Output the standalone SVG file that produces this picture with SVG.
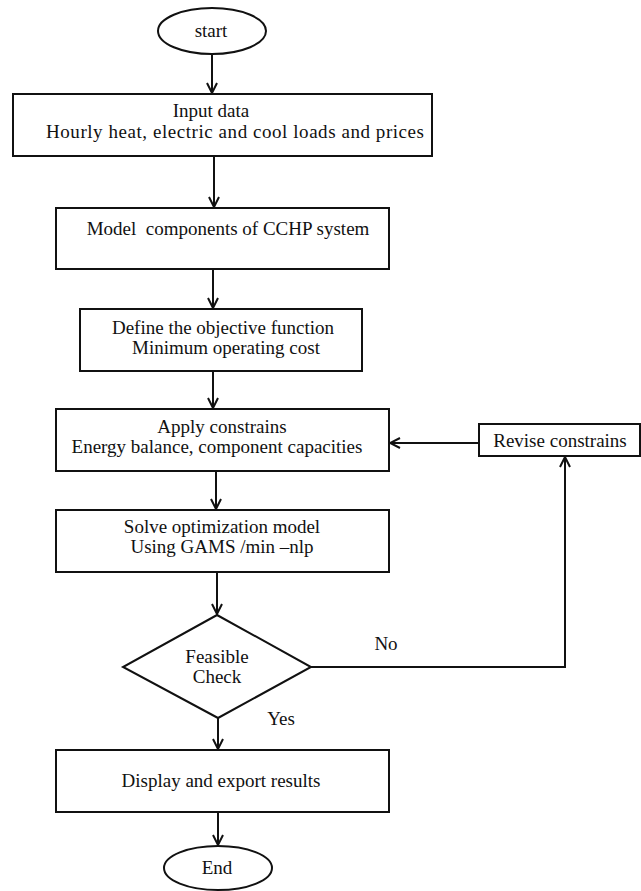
<svg xmlns="http://www.w3.org/2000/svg" width="641" height="891" viewBox="0 0 641 891">
<style>
.s{fill:#fff;stroke:#111;stroke-width:2}
.t{font-family:"Liberation Serif","Times New Roman",serif;font-size:19px;fill:#111;text-anchor:middle;white-space:pre}
.c{fill:none;stroke:#111;stroke-width:2}
</style>
<defs>
<marker id="a" viewBox="0 0 12 12" refX="11" refY="6" markerWidth="12" markerHeight="12" markerUnits="userSpaceOnUse" orient="auto">
<path d="M1,1 L11,6 L1,11" fill="none" stroke="#111" stroke-width="2"/>
</marker>
</defs>
<rect width="641" height="891" fill="#fff"/>
<g id="connectors">
<line class="c" x1="212" y1="54" x2="212" y2="93" marker-end="url(#a)"/>
<line class="c" x1="214" y1="156" x2="214" y2="207" marker-end="url(#a)"/>
<line class="c" x1="213" y1="269" x2="213" y2="308" marker-end="url(#a)"/>
<line class="c" x1="213" y1="371" x2="213" y2="408" marker-end="url(#a)"/>
<line class="c" x1="216" y1="471" x2="216" y2="509" marker-end="url(#a)"/>
<line class="c" x1="217" y1="572" x2="217" y2="614" marker-end="url(#a)"/>
<line class="c" x1="218" y1="718" x2="218" y2="749" marker-end="url(#a)"/>
<line class="c" x1="218" y1="812" x2="218" y2="845" marker-end="url(#a)"/>
<polyline class="c" points="311,667 565,667 565,457" marker-end="url(#a)"/>
<line class="c" x1="479" y1="443" x2="390" y2="443" marker-end="url(#a)"/>
<text class="t" x="386" y="650">No</text>
<text class="t" x="281" y="725">Yes</text>
</g>
<g id="start">
<ellipse class="s" cx="212" cy="31" rx="54" ry="23"/>
<text class="t" x="211" y="37">start</text>
</g>
<g id="input">
<rect class="s" x="13" y="94" width="419" height="62"/>
<text class="t" x="211" y="117">Input data</text>
<text class="t" x="235" y="138" textLength="378">Hourly heat, electric and cool loads and prices</text>
</g>
<g id="model">
<rect class="s" x="56" y="208" width="333" height="61"/>
<text class="t" x="228" y="235">Model  components of CCHP system</text>
</g>
<g id="define">
<rect class="s" x="80" y="309" width="282" height="62"/>
<text class="t" x="223" y="334">Define the objective function</text>
<text class="t" x="226" y="354">Minimum operating cost</text>
</g>
<g id="apply">
<rect class="s" x="56" y="409" width="333" height="62"/>
<text class="t" x="222" y="433">Apply constrains</text>
<text class="t" x="217" y="453">Energy balance, component capacities</text>
</g>
<g id="revise">
<rect class="s" x="479" y="424" width="161" height="32"/>
<text class="t" x="560" y="447">Revise constrains</text>
</g>
<g id="solve">
<rect class="s" x="56" y="510" width="333" height="62"/>
<text class="t" x="222" y="533">Solve optimization model</text>
<text class="t" x="222" y="553">Using GAMS /min –nlp</text>
</g>
<g id="check">
<polygon class="s" points="217,615 311,667 218,718 123,667"/>
<text class="t" x="217" y="663">Feasible</text>
<text class="t" x="217" y="683">Check</text>
</g>
<g id="display">
<rect class="s" x="56" y="750" width="333" height="62"/>
<text class="t" x="221" y="787">Display and export results</text>
</g>
<g id="end">
<ellipse class="s" cx="218" cy="868" rx="54" ry="22"/>
<text class="t" x="217" y="874">End</text>
</g>
</svg>
